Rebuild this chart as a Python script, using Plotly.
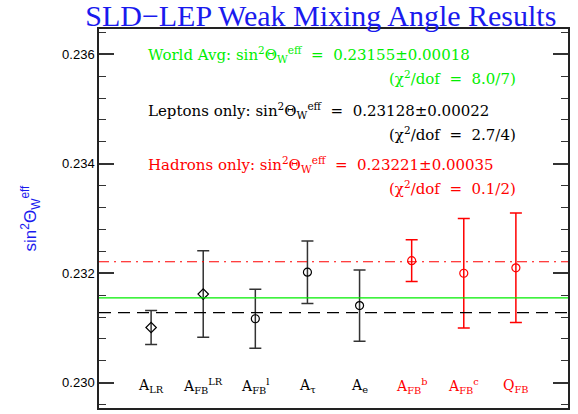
import plotly.graph_objects as go

# ---- data ----
labels = ["A<sub>LR</sub>", "A<sub>FB</sub><sup>LR</sup>", "A<sub>FB</sub><sup>l</sup>",
          "A<sub>τ</sub>", "A<sub>e</sub>", "A<sub>FB</sub><sup>b</sup>",
          "A<sub>FB</sub><sup>c</sup>", "Q<sub>FB</sub>"]
values = [0.23101, 0.23162, 0.23117, 0.23202, 0.23141, 0.23223, 0.23200, 0.23210]
errors = [0.00031, 0.00079, 0.00054, 0.00057, 0.00065, 0.00038, 0.00100, 0.00100]
symbols = ["diamond-open", "diamond-open", "circle-open", "circle-open", "circle-open",
           "circle-open", "circle-open", "circle-open"]
groups = ["lep", "lep", "lep", "lep", "lep", "had", "had", "had"]

world_avg, world_err, world_chi = 0.23155, 0.00018, "8.0/7"
lep_avg, lep_err, lep_chi = 0.23128, 0.00022, "2.7/4"
had_avg, had_err, had_chi = 0.23221, 0.00035, "0.1/2"

GREEN = "#00ee00"
RED = "#ff0000"
BLACK = "#000000"
BLUE = "#1a1aee"
SERIF = "Liberation Serif"
TSERIF = "DejaVu Serif"
NB = "\u00a0"

fig = go.Figure()

xs = list(range(len(values)))
for grp, col, bar in [("lep", BLACK, "#333333"), ("had", RED, RED)]:
    idx = [i for i in xs if groups[i] == grp]
    fig.add_trace(go.Scatter(
        x=idx, y=[values[i] for i in idx], mode="markers",
        marker=dict(symbol=[symbols[i] for i in idx], size=8, color=col,
                    line=dict(width=1.2, color=col)),
        error_y=dict(type="data", array=[errors[i] for i in idx], color=bar,
                     thickness=1.5, width=6),
        showlegend=False, hoverinfo="skip"))

xmin, xmax = -1, len(values)
fig.add_hline(y=world_avg, line=dict(color=GREEN, width=1.2))
fig.add_hline(y=lep_avg, line=dict(color=BLACK, width=1.2, dash="12px,7px"))
fig.add_hline(y=had_avg, line=dict(color=RED, width=1.2, dash="10px,5px,2px,5px"))

sw = "sin<sup>2</sup>Θ<sub>W</sub><sup>eff</sup>"
eq = f"{NB}{NB}={NB}{NB}"
texts = [
    (f"World Avg: {sw}{eq}{world_avg:.5f}±{world_err:.5f}", f"(χ<sup>2</sup>/dof{eq}{world_chi})", GREEN, 0.23600, 0.23556),
    (f"Leptons{NB}only: {sw}{eq}{lep_avg:.5f}±{lep_err:.5f}", f"(χ<sup>2</sup>/dof{eq}{lep_chi})", BLACK, 0.23498, 0.23455),
    (f"Hadrons{NB}only: {sw}{eq}{had_avg:.5f}±{had_err:.5f}", f"(χ<sup>2</sup>/dof{eq}{had_chi})", RED, 0.23399, 0.23355),
]
for t1, t2, col, y1, y2 in texts:
    fig.add_annotation(x=0.10, xref="paper", y=y1, yref="y", text=t1, showarrow=False,
                       xanchor="left", yanchor="middle", font=dict(family=TSERIF, size=15, color=col))
    fig.add_annotation(x=0.893, xref="paper", y=y2, yref="y", text=t2, showarrow=False,
                       xanchor="right", yanchor="middle", font=dict(family=TSERIF, size=15, color=col))

for i, lab in enumerate(labels):
    col = BLACK if groups[i] == "lep" else RED
    fig.add_annotation(x=i, y=0.22995, text=lab, showarrow=False, xanchor="center",
                       yanchor="middle", font=dict(family=TSERIF, size=14, color=col))

fig.update_layout(
    width=578, height=414,
    margin=dict(l=99, r=10, t=29, b=6),
    paper_bgcolor="white", plot_bgcolor="white",
    title=dict(text="SLD−LEP Weak Mixing Angle Results", x=0.555, xref="container",
               xanchor="center", y=0.9375, yref="container", yanchor="bottom",
               font=dict(family=SERIF, size=30, color=BLUE)),
    showlegend=False,
)
fig.update_xaxes(range=[xmin, xmax], showgrid=False, zeroline=False, showticklabels=False,
                 ticks="", showline=True, linecolor="#222222", linewidth=1.5, mirror=True)
fig.update_yaxes(range=[0.22954, 0.23646], showgrid=False, zeroline=False,
                 tickvals=[0.230, 0.232, 0.234, 0.236], tickformat=".3f",
                 ticks="inside", ticklen=15, tickwidth=1.5, tickcolor="#333333",
                 minor=dict(dtick=0.0004, tick0=0.230, ticks="inside", ticklen=7,
                            tickwidth=1.2, tickcolor="#333333"),
                 showline=True, linecolor="#222222", linewidth=1.5, mirror="ticks",
                 tickfont=dict(family="Liberation Sans", size=13, color="black"),
                 title=dict(text="sin<sup>2</sup>Θ<sub>W</sub><sup>eff</sup>",
                            font=dict(family="Liberation Sans", size=17, color=BLUE),
                            standoff=21))

fig.write_html("out.html", config={"displayModeBar": False},
               post_script="document.body.style.margin='0';document.body.style.overflow='hidden';")
